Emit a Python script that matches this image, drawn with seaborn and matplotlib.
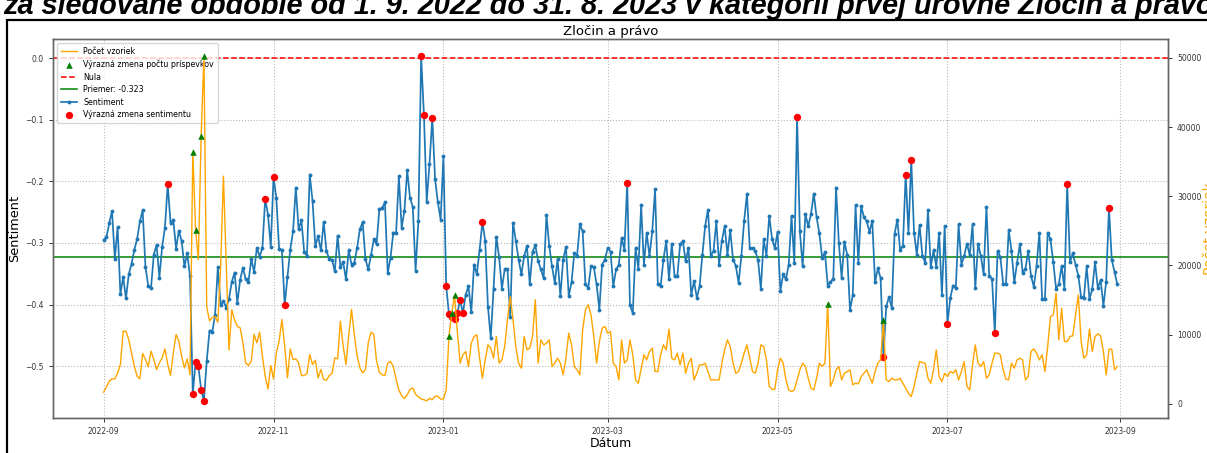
import matplotlib
matplotlib.use("Agg")
import matplotlib.pyplot as plt
import matplotlib.dates as mdates
from matplotlib.patches import Rectangle
import numpy as np
import pandas as pd
import seaborn as sns

# ---- data -------------------------------------------------------------
start_date = "2022-09-01"
end_date = "2023-08-31"
category = "Zločin a právo"
heading = ("za sledované obdobie od 1. 9. 2022 do 31. 8. 2023 "
           "v kategórii prvej úrovne Zločin a právo")

# daily mean sentiment
sentiment = [
    -0.295, -0.290, -0.268, -0.248, -0.326, -0.274, -0.383, -0.355, -0.390, -0.351,
    -0.334, -0.311, -0.294, -0.265, -0.247, -0.339, -0.369, -0.373, -0.319, -0.303,
    -0.356, -0.306, -0.275, -0.205, -0.267, -0.263, -0.309, -0.280, -0.297, -0.338,
    -0.317, -0.354, -0.545, -0.493, -0.500, -0.538, -0.556, -0.492, -0.442, -0.444,
    -0.417, -0.339, -0.401, -0.394, -0.405, -0.391, -0.363, -0.348, -0.397, -0.360,
    -0.340, -0.359, -0.363, -0.326, -0.347, -0.308, -0.322, -0.308, -0.228, -0.254,
    -0.306, -0.193, -0.227, -0.310, -0.311, -0.401, -0.355, -0.311, -0.281, -0.210,
    -0.278, -0.263, -0.314, -0.321, -0.189, -0.232, -0.305, -0.289, -0.312, -0.266,
    -0.313, -0.326, -0.327, -0.346, -0.288, -0.339, -0.331, -0.359, -0.312, -0.335,
    -0.332, -0.308, -0.278, -0.266, -0.326, -0.343, -0.320, -0.294, -0.302, -0.245,
    -0.243, -0.234, -0.349, -0.324, -0.283, -0.284, -0.192, -0.275, -0.248, -0.182,
    -0.227, -0.241, -0.345, -0.265, 0.003, -0.092, -0.233, -0.172, -0.097, -0.196,
    -0.234, -0.262, -0.159, -0.370, -0.416, -0.420, -0.424, -0.414, -0.392, -0.414,
    -0.384, -0.370, -0.412, -0.335, -0.351, -0.311, -0.266, -0.296, -0.404, -0.454,
    -0.375, -0.290, -0.323, -0.374, -0.343, -0.343, -0.420, -0.267, -0.296, -0.327,
    -0.351, -0.321, -0.305, -0.367, -0.314, -0.304, -0.329, -0.343, -0.357, -0.254,
    -0.305, -0.338, -0.365, -0.326, -0.386, -0.327, -0.306, -0.386, -0.364, -0.316,
    -0.321, -0.270, -0.281, -0.367, -0.373, -0.338, -0.339, -0.367, -0.408, -0.335,
    -0.327, -0.308, -0.314, -0.370, -0.343, -0.335, -0.292, -0.311, -0.202, -0.401,
    -0.414, -0.308, -0.342, -0.239, -0.335, -0.284, -0.321, -0.281, -0.213, -0.367,
    -0.370, -0.327, -0.297, -0.359, -0.301, -0.354, -0.354, -0.302, -0.297, -0.330,
    -0.308, -0.384, -0.362, -0.389, -0.370, -0.319, -0.272, -0.246, -0.321, -0.313,
    -0.265, -0.335, -0.296, -0.273, -0.319, -0.279, -0.327, -0.337, -0.365, -0.321,
    -0.264, -0.220, -0.308, -0.308, -0.313, -0.328, -0.375, -0.294, -0.321, -0.256,
    -0.293, -0.308, -0.282, -0.378, -0.351, -0.359, -0.335, -0.256, -0.332, -0.095,
    -0.281, -0.338, -0.253, -0.273, -0.253, -0.220, -0.258, -0.284, -0.324, -0.315,
    -0.369, -0.363, -0.358, -0.210, -0.300, -0.357, -0.298, -0.319, -0.408, -0.385,
    -0.239, -0.333, -0.240, -0.258, -0.265, -0.282, -0.264, -0.364, -0.341, -0.357,
    -0.485, -0.403, -0.388, -0.405, -0.286, -0.262, -0.311, -0.305, -0.189, -0.284,
    -0.165, -0.283, -0.319, -0.271, -0.321, -0.332, -0.246, -0.339, -0.312, -0.339,
    -0.283, -0.385, -0.273, -0.431, -0.390, -0.369, -0.373, -0.270, -0.335, -0.321,
    -0.301, -0.320, -0.270, -0.373, -0.302, -0.321, -0.351, -0.241, -0.354, -0.358,
    -0.446, -0.313, -0.323, -0.366, -0.367, -0.279, -0.313, -0.364, -0.332, -0.302,
    -0.348, -0.342, -0.313, -0.353, -0.371, -0.338, -0.284, -0.391, -0.391, -0.283,
    -0.294, -0.331, -0.374, -0.367, -0.337, -0.374, -0.205, -0.331, -0.317, -0.335,
    -0.353, -0.388, -0.389, -0.338, -0.391, -0.375, -0.331, -0.373, -0.360, -0.402,
    -0.363, -0.243, -0.327, -0.347, -0.367,
]

# daily number of samples
sample_counts = [
    1690, 2460, 3280, 3615, 3615, 4480, 5690, 10500, 10500, 9300,
    7380, 5450, 4000, 3615, 7280, 6410, 5350, 7620, 6410, 4960,
    5930, 6650, 7950, 5690, 4100, 7380, 10020, 9060, 6890, 5200,
    6500, 4200, 36360, 25190, 20850, 38770, 50230, 14000, 12000, 12500,
    12600, 11800, 19800, 32900, 20300, 7800, 13600, 12100, 11200, 10990,
    8820, 5930, 5540, 6170, 10030, 8820, 10360, 6890, 4000, 2170,
    5540, 3615, 7370, 9060, 12190, 8340, 3760, 7950, 6410, 6510,
    5930, 4100, 4100, 4390, 7130, 5690, 6310, 3760, 4960, 3520,
    3420, 4100, 4390, 6650, 6510, 11950, 8340, 5690, 9880, 13640,
    10030, 7000, 5210, 4480, 4960, 8820, 10360, 10030, 6170, 4580,
    4200, 4100, 5900, 6150, 5400, 3600, 2000, 1200, 770, 1300,
    2100, 2300, 1400, 1000, 700, 600, 450, 800, 600, 1100,
    1100, 700, 700, 2000, 9830, 13110, 15660, 10460, 5880, 7090,
    7570, 5400, 8770, 9740, 9980, 6600, 3710, 6360, 8530, 8050,
    6600, 9740, 5880, 6360, 8290, 12150, 15520, 12150, 8290, 5880,
    5160, 9740, 7810, 8050, 9740, 15040, 5880, 9250, 8530, 8770,
    9250, 5400, 5880, 6600, 5880, 4190, 6600, 10220, 8530, 5400,
    4920, 4190, 10700, 13590, 14320, 12870, 9740, 5880, 9010, 10940,
    11180, 10220, 10460, 5880, 5400, 3470, 9250, 5880, 6360, 9250,
    7090, 3470, 2990, 5000, 7090, 6360, 7570, 8050, 4680, 4680,
    7090, 8530, 7810, 10800, 6600, 6360, 7330, 5640, 7330, 4430,
    5880, 6600, 3470, 4430, 5640, 5640, 5880, 4680, 3470, 3470,
    3470, 3470, 5880, 7810, 9250, 8290, 5880, 4430, 4680, 5880,
    7330, 8530, 6600, 4680, 4430, 5880, 8530, 8290, 6360, 2510,
    2120, 2120, 4920, 6600, 5880, 3470, 2020, 1780, 2020, 3470,
    4920, 5880, 5400, 3710, 2270, 2020, 3710, 5880, 5400, 5880,
    14460, 2510, 3470, 4920, 5400, 3470, 4430, 4680, 4920, 2750,
    2990, 2890, 3950, 4430, 4920, 3950, 2990, 4680, 5880, 6360,
    12150, 3470, 3230, 3710, 3470, 3470, 3710, 2990, 2270, 1540,
    1060, 2510, 4430, 6120, 5980, 5880, 3710, 2990, 4920, 7810,
    3950, 3230, 4430, 3950, 4680, 4430, 4920, 3470, 4680, 6120,
    2510, 2020, 5640, 8530, 5880, 5400, 6120, 3710, 4190, 5880,
    7330, 7330, 7090, 4920, 3570, 3470, 5880, 5160, 6360, 6600,
    6360, 3470, 3950, 7570, 7950, 7330, 6360, 7090, 4680, 8290,
    12630, 12870, 16000, 9250, 13830, 9010, 9010, 9740, 9830, 12870,
    15760, 9010, 6600, 7090, 10850, 7570, 9740, 10120, 9830, 7570,
    4190, 7900, 7900, 4920, 5400,
]

# days flagged as significant changes
sentiment_change_days = [23, 32, 33, 34, 35, 36, 58, 61, 65, 114, 115, 118,
                         123, 124, 125, 126, 127, 128, 129, 136, 188, 249,
                         280, 288, 290, 303, 320, 346, 361]
count_change_days = [32, 33, 35, 36, 124, 125, 126, 260, 280]

mean_sentiment = -0.323

# ---- frames -----------------------------------------------------------
dates = pd.date_range(start_date, end_date, freq="D")
df = pd.DataFrame({"Dátum": dates,
                   "Sentiment": sentiment,
                   "Počet vzoriek": sample_counts})
df_sent_chg = df.iloc[sentiment_change_days]
df_cnt_chg = df.iloc[count_change_days]

# ---- figure -----------------------------------------------------------
W, H = 1207, 453
fig = plt.figure(figsize=(W / 100, H / 100), dpi=100)
ax1 = fig.add_axes([53 / W, 1 - 418 / H, (1168 - 53) / W, (418 - 39) / H])
ax2 = ax1.twinx()

ax1.grid(True, linestyle=":", color="#b8b8b8", linewidth=0.8)
ax1.set_axisbelow(True)

ax1.axhline(0, color="red", linestyle="--", linewidth=1.1, label="Nula")
ax1.axhline(mean_sentiment, color="green", linewidth=1.1,
            label=f"Priemer: {mean_sentiment:.3f}")
sns.lineplot(data=df, x="Dátum", y="Sentiment", ax=ax1, color="#1f77b4",
             linewidth=1.25, marker="o", markersize=2.8,
             markeredgecolor="#1f77b4", markeredgewidth=0,
             label="Sentiment")
sns.scatterplot(data=df_sent_chg, x="Dátum", y="Sentiment", ax=ax1,
                color="red", s=28, linewidth=0, zorder=4,
                label="Výrazná zmena sentimentu")

sns.lineplot(data=df, x="Dátum", y="Počet vzoriek", ax=ax2, color="orange",
             linewidth=1.0, label="Počet vzoriek")
sns.scatterplot(data=df_cnt_chg, x="Dátum", y="Počet vzoriek", ax=ax2,
                color="green", marker="^", s=22, linewidth=0, zorder=4,
                label="Výrazná zmena počtu príspevkov")

# combined legend on the left axis
h1, l1 = ax1.get_legend_handles_labels()
h2, l2 = ax2.get_legend_handles_labels()
if ax2.get_legend() is not None:
    ax2.get_legend().remove()
lookup = dict(zip(l1 + l2, h1 + h2))
order = ["Počet vzoriek", "Výrazná zmena počtu príspevkov", "Nula",
         f"Priemer: {mean_sentiment:.3f}", "Sentiment",
         "Výrazná zmena sentimentu"]
ax1.legend([lookup[k] for k in order], order, loc="upper left",
           fontsize=5.7, framealpha=0.8, borderpad=0.5, labelspacing=0.45,
           handlelength=2.0)

# axes cosmetics
ax1.xaxis.set_major_locator(mdates.MonthLocator(bymonth=[1, 3, 5, 7, 9, 11]))
ax1.xaxis.set_major_formatter(mdates.DateFormatter("%Y-%m"))
for ax in (ax1, ax2):
    ax.tick_params(labelsize=5.5, length=3, width=0.7, colors="#333333")
    for sp in ax.spines.values():
        sp.set_color("#666666")
        sp.set_linewidth(1.0)

ax1.set_title(category, fontsize=9.5, pad=3)
ax1.set_xlabel("Dátum", fontsize=9, labelpad=1)
ax1.set_ylabel("Sentiment", fontsize=9.3, labelpad=3)
ax2.set_ylabel("Počet vzoriek", fontsize=10, color="orange", labelpad=1)

# page heading and frame around the chart image
fig.text(3 / W, 1 - 14 / H, heading, fontsize=20.8, fontweight="bold",
         fontstyle="italic", family=["Liberation Sans", "DejaVu Sans"],
         ha="left", va="baseline")
fig.patches.append(Rectangle((7 / W, -0.2), 1.2, 1.2 - 20 / H,
                             transform=fig.transFigure, fill=False,
                             edgecolor="black", linewidth=1.6))

fig.savefig("out.png", dpi=100)
